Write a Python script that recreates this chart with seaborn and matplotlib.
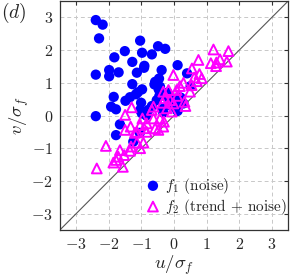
import numpy as np
import pandas as pd
import matplotlib
matplotlib.use("Agg")
import matplotlib.pyplot as plt
import seaborn as sns

# f1 (noise)
u1 = [-2.40, -2.19, -2.30, -1.04, -0.49, -0.27, -1.51, -0.98, -0.68, -1.83,
      -1.28, -0.91, -0.92, 0.11, -1.99, -1.70, -1.14, -0.38, 0.40, -2.40,
      -1.99, -0.46, -0.53, -1.28, -0.60, -0.43, 0.51, -0.47, -0.98, -1.11,
      -1.17, -1.85, -1.35, -1.49, -1.01, -0.68, -0.53, -1.93, -1.78, -1.04,
      -0.99, -0.85, -2.40, -0.33, 0.11, 0.05, -0.25, -1.66, -1.78, -1.05,
      -1.25, -0.58, -0.07, 0.03, 0.29, -0.79, 0.10, -0.45, -0.20, -0.10,
      -0.35, 0.20]
v1 = [2.92, 2.78, 2.36, 2.29, 2.12, 2.04, 1.97, 1.92, 1.87, 1.78,
      1.64, 1.52, 1.46, 1.54, 1.39, 1.32, 1.31, 1.39, 1.29, 1.25,
      1.20, 1.13, 1.00, 0.96, 0.95, 0.88, 0.90, 0.80, 0.80, 0.71,
      0.65, 0.57, 0.56, 0.45, 0.39, 0.29, 0.47, 0.27, 0.19, 0.17,
      0.07, 0.00, -0.02, 0.09, 0.14, 0.42, 0.58, -0.27, -0.60, -0.53,
      -0.80, 1.03, 0.53, 0.37, 0.37, 0.17, 0.17, 0.60, 0.70, 0.30,
      0.20, 0.55]

# f2 (trend + noise)
u2 = [1.21, 1.67, 0.75, 1.41, 1.13, 1.29, 1.62, 0.55, 0.78, 0.62,
      0.85, -0.02, 0.29, 0.18, 0.54, -0.17, -0.33, 0.08, 0.49, -0.28,
      -0.12, -0.35, -0.02, -0.22, -0.07, 0.32, 0.35, -0.63, -0.68, -1.30,
      -1.50, -0.97, -0.63, -0.43, -0.31, -0.84, -1.04, -1.33, -1.14, -0.92,
      -0.58, -0.33, -1.50, -1.20, -0.84, -0.48, -2.09, -1.14, -0.94, -1.32,
      -1.04, -1.66, -1.35, -1.53, -1.71, -1.78, -1.86, -1.57, -2.37, 1.30,
      0.70, 0.10]
v2 = [2.02, 1.97, 1.70, 1.72, 1.60, 1.51, 1.65, 1.44, 1.27, 1.16,
      1.14, 1.24, 1.00, 0.90, 0.93, 0.78, 0.73, 0.78, 0.73, 0.53,
      0.47, 0.39, 0.37, 0.22, 0.12, 0.42, 0.29, 0.27, 0.17, 0.25,
      0.02, -0.09, -0.09, -0.09, -0.19, -0.24, -0.29, -0.34, -0.50, -0.39,
      -0.39, -0.34, -0.44, -0.53, -0.50, -0.44, -0.93, -0.83, -0.83, -0.95,
      -1.00, -1.06, -1.08, -1.21, -1.26, -1.36, -1.44, -1.57, -1.62, 1.62,
      1.05, 0.60]

ticks = [-3, -2, -1, 0, 1, 2, 3]

sns.set_style("white")
plt.rcParams["font.family"] = "serif"
plt.rcParams["font.serif"] = ["cmr10", "DejaVu Serif"]
plt.rcParams["mathtext.fontset"] = "cm"
plt.rcParams["axes.formatter.use_mathtext"] = True
plt.rcParams["axes.unicode_minus"] = True

df1 = pd.DataFrame({"u": u1, "v": v1})
df2 = pd.DataFrame({"u": u2, "v": v2})

fig = plt.figure(figsize=(2.91, 2.78), dpi=100)
ax = fig.add_axes([0.206, 0.173, 0.784, 0.823])

ax.plot([-3.5, 3.5], [-3.5, 3.5], color="#555555", lw=0.8, zorder=1)

sns.scatterplot(data=df1, x="u", y="v", ax=ax, color="#0000ff", marker="o",
                s=55, edgecolor="none", label=r"$f_1$ (noise)", zorder=3)
sns.scatterplot(data=df2, x="u", y="v", ax=ax, marker="^", s=50,
                facecolor="none", edgecolor="#ff00ff", linewidth=1.4,
                label=r"$f_2$ (trend + noise)", zorder=4)

ax.set_xlim(-3.5, 3.5)
ax.set_ylim(-3.5, 3.5)
ax.set_xticks(ticks)
ax.set_yticks(ticks)
ax.grid(True, color="#c8c8c8", linestyle=(0, (4, 3)), lw=0.7)
ax.set_axisbelow(True)
ax.tick_params(direction="in", length=3, width=0.8, top=True, right=True,
               labelsize=11.5, pad=5, color="#333333")
for sp in ax.spines.values():
    sp.set_color("#333333")
    sp.set_linewidth(0.9)

ax.set_xlabel(r"$u/\sigma_f$", fontsize=13.5, labelpad=1)
ax.set_ylabel(r"$v/\sigma_f$", fontsize=13.5, labelpad=0)

leg = ax.legend(loc="lower right", bbox_to_anchor=(1.01, 0.045), frameon=False,
                fontsize=11, handletextpad=0.3, borderaxespad=0.0,
                labelspacing=0.05, handlelength=1.0, borderpad=0.2)

fig.text(0.005, 0.952, r"$(d)$", fontsize=14, ha="left", va="center")

fig.savefig("out.png", dpi=100)
